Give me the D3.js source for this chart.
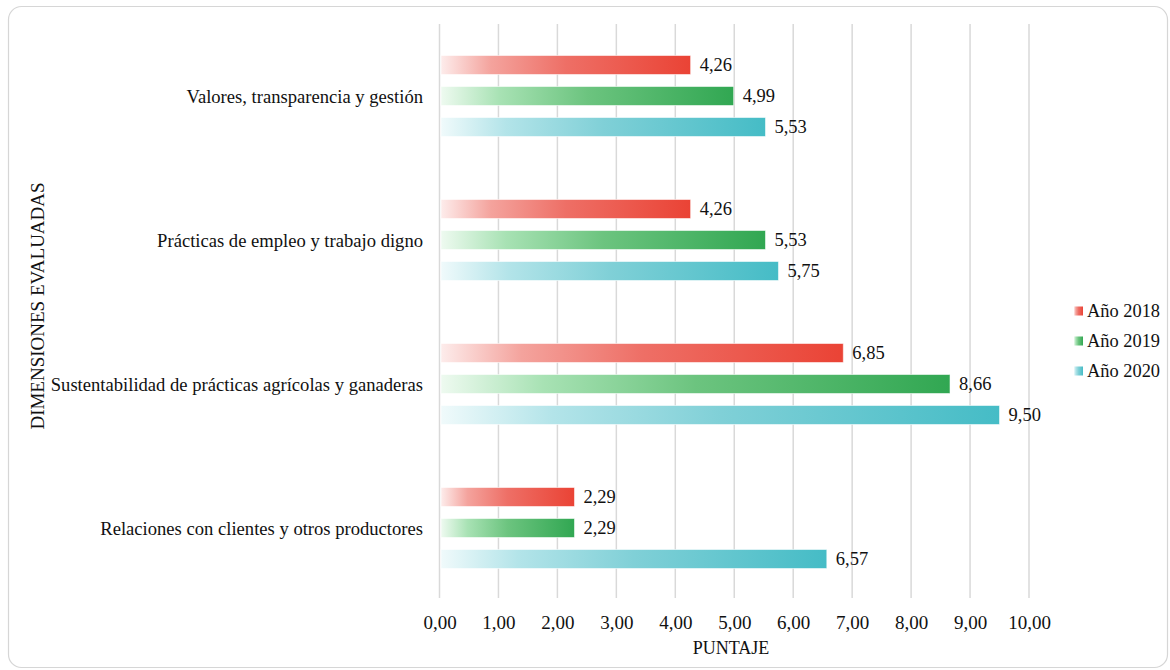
<!DOCTYPE html>
<html>
<head>
<meta charset="utf-8">
<script src="https://cdn.jsdelivr.net/npm/d3@7"></script>
<style>
  html, body { margin: 0; padding: 0; background: #fff; }
  svg text { font-family: "Liberation Serif", "Times New Roman", serif; fill: #111; }
</style>
</head>
<body>
<svg id="chart" width="1170" height="670"></svg>
<script>
const categories = [
  "Valores, transparencia y gestión",
  "Prácticas de empleo y trabajo digno",
  "Sustentabilidad de prácticas agrícolas y ganaderas",
  "Relaciones con clientes y otros productores"
];
const years = ["Año 2018", "Año 2019", "Año 2020"];
const values2018 = [4.26, 4.26, 6.85, 2.29];
const values2019 = [4.99, 5.53, 8.66, 2.29];
const values2020 = [5.53, 5.75, 9.50, 6.57];
const xTicks = [0, 1, 2, 3, 4, 5, 6, 7, 8, 9, 10];
const xTitle = "PUNTAJE";
const yTitle = "DIMENSIONES EVALUADAS";

const seriesValues = [values2018, values2019, values2020];
const gradStops = [
  ["#fdeceb", "#f4a39d", "#ee6f66", "#ea4335"],
  ["#eefaf0", "#a8e2b4", "#6cc47f", "#31a752"],
  ["#f0fafb", "#b3e4e9", "#80d0d7", "#45bcc6"]
];

const svg = d3.select("#chart");

// outer rounded frame
svg.append("rect")
  .attr("x", 8.5).attr("y", 6.5).attr("width", 1159).attr("height", 661)
  .attr("rx", 13).attr("ry", 13)
  .attr("fill", "#fff").attr("stroke", "#d6d6d6").attr("stroke-width", 1.2);

const defs = svg.append("defs");
years.forEach((y, i) => {
  const g = defs.append("linearGradient").attr("id", "grad" + i)
    .attr("x1", "0%").attr("x2", "100%").attr("y1", "0%").attr("y2", "0%");
  const offs = [0, 0.2, 0.5, 1];
  gradStops[i].forEach((c, k) => g.append("stop").attr("offset", offs[k]).attr("stop-color", c));
});

const plotTop = 24, plotBottom = 600;
const x = d3.scaleLinear().domain([0, 10]).range([439.5, 1029]);
const y0 = d3.scaleBand().domain(categories).range([plotTop, plotBottom]).padding(0);
const inner = 93;
const y1 = d3.scaleBand().domain(years)
  .range([(y0.bandwidth() - inner) / 2, (y0.bandwidth() + inner) / 2])
  .paddingInner(0.387).paddingOuter(0.1935);

// gridlines
svg.append("g").attr("class", "grid")
  .selectAll("line").data(xTicks).join("line")
  .attr("x1", d => x(d)).attr("x2", d => x(d))
  .attr("y1", plotTop).attr("y2", plotBottom - 2)
  .attr("stroke", "#d9d9d9").attr("stroke-width", 1.5);

// x axis labels
const fmt = d => d3.format(".2f")(d).replace(".", ",");
const xAxis = d3.axisBottom(x).tickValues(xTicks).tickSize(0).tickPadding(0).tickFormat(fmt);
const gx = svg.append("g").attr("transform", `translate(0,${plotBottom + 12})`).call(xAxis);
gx.select(".domain").remove();
gx.selectAll("text").attr("font-size", 19).attr("font-family", '"Liberation Serif", serif').attr("fill", "#111").attr("dy", "0.88em");

// bars
const rows = [];
categories.forEach((c, ci) => years.forEach((yr, si) => rows.push({ c, yr, si, v: seriesValues[si][ci] })));

const barG = svg.append("g");
barG.selectAll("rect").data(rows).join("rect")
  .attr("x", x(0) + 1.5)
  .attr("y", d => y0(d.c) + y1(d.yr))
  .attr("width", d => x(d.v) - x(0) - 1.5)
  .attr("height", y1.bandwidth())
  .attr("fill", d => `url(#grad${d.si})`)
  .attr("stroke", "rgba(255,255,255,0.55)").attr("stroke-width", 1);

barG.selectAll("text").data(rows).join("text")
  .attr("x", d => x(d.v) + 9)
  .attr("y", d => y0(d.c) + y1(d.yr) + y1.bandwidth() / 2)
  .attr("dy", "0.35em")
  .attr("font-size", 18.5)
  .text(d => fmt(d.v));

// category labels
svg.append("g").selectAll("text").data(categories).join("text")
  .attr("x", 423)
  .attr("y", d => y0(d) + y0.bandwidth() / 2)
  .attr("dy", "0.35em")
  .attr("text-anchor", "end")
  .attr("font-size", 18.6)
  .text(d => d);

// axis titles
svg.append("text").attr("x", 731).attr("y", 654).attr("text-anchor", "middle")
  .attr("font-size", 18).text(xTitle);
svg.append("text").attr("transform", "translate(44,306) rotate(-90)")
  .attr("text-anchor", "middle").attr("font-size", 19).text(yTitle);

// legend
const lg = svg.append("g").selectAll("g").data(years).join("g")
  .attr("transform", (d, i) => `translate(1074,${311 + i * 30})`);
lg.append("rect").attr("x", 0).attr("y", -4.5).attr("width", 9).attr("height", 9)
  .attr("fill", (d, i) => `url(#grad${i})`);
lg.append("text").attr("x", 13).attr("y", 0).attr("dy", "0.35em")
  .attr("font-size", 18.4).text(d => d);
</script>
</body>
</html>
